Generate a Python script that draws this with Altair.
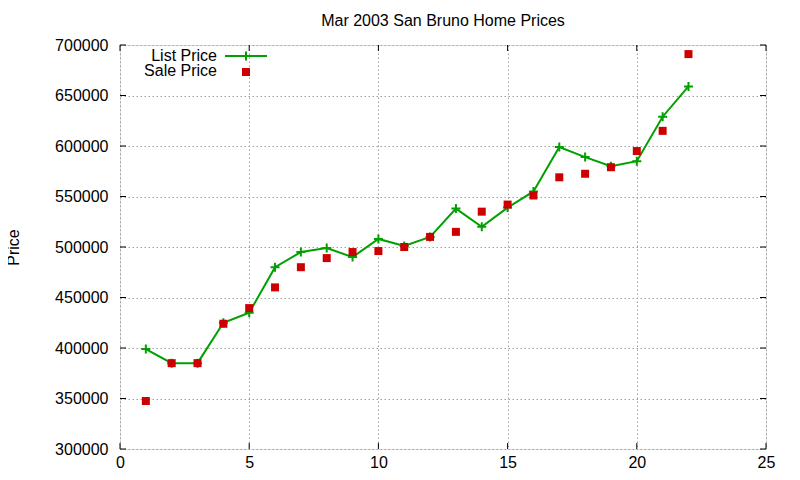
import altair as alt
import pandas as pd

house = list(range(1, 23))
list_price = [399000, 385000, 385000, 425000, 435000, 480000, 495000, 499000, 490000, 508000, 501000,
              510000, 538000, 520000, 539000, 555000, 599000, 589000, 580000, 585000, 629000, 659000]
sale_price = [347500, 385000, 385000, 424000, 439500, 460000, 480000, 489000, 495000, 496000, 500000,
              510000, 515000, 535000, 542000, 551000, 569000, 572500, 579000, 595000, 615000, 691000]
x_ticks = [0, 5, 10, 15, 20, 25]
y_ticks = [300000, 350000, 400000, 450000, 500000, 550000, 600000, 650000, 700000]
legend_labels = ["List Price", "Sale Price"]
title_text = "Mar 2003 San Bruno Home Prices"

GREEN = "#00a000"
RED = "#cc0000"
FONT = "Liberation Sans"
W, H = 646, 404
PLUS = "M-1,0L1,0M0,-1L0,1"

df = pd.DataFrame({"x": house, "list": list_price, "sale": sale_price})

xs = alt.Scale(domain=[0, 25], nice=False, zero=False)
ys = alt.Scale(domain=[300000, 700000], nice=False, zero=False)

xax = alt.Axis(values=x_ticks, format="d", tickSize=0, labelPadding=5, grid=True,
               gridDash=[1.5, 2.5], gridColor="#a0a0a0", domain=False, title=None,
               labelFontSize=16, labelFont=FONT, labelColor="black", labelFlush=False)
yax = alt.Axis(values=y_ticks, format="d", tickSize=0, labelPadding=12, grid=True,
               gridDash=[1.5, 2.5], gridColor="#a0a0a0", domain=False, title="Price",
               titleFontSize=16, titleFont=FONT, titleFontWeight="normal", titleColor="black",
               titlePadding=33, labelFontSize=16, labelFont=FONT, labelColor="black")

base = alt.Chart(df)

line = base.mark_line(color=GREEN, strokeWidth=2).encode(
    x=alt.X("x:Q", scale=xs, axis=xax),
    y=alt.Y("list:Q", scale=ys, axis=yax),
)
plus = base.mark_point(shape=PLUS, size=81, color=GREEN, strokeWidth=2, filled=False, opacity=1).encode(
    x=alt.X("x:Q", scale=xs), y=alt.Y("list:Q", scale=ys)
)
sq = base.mark_point(shape="square", size=64, color=RED, filled=True, opacity=1, strokeWidth=0).encode(
    x=alt.X("x:Q", scale=xs), y=alt.Y("sale:Q", scale=ys)
)

# inward ticks (gnuplot style, mirrored)
xt = pd.DataFrame({"t": x_ticks})
yt = pd.DataFrame({"t": y_ticks})
xtick_b = alt.Chart(xt).mark_rule(color="black", strokeWidth=1).encode(
    x=alt.X("t:Q", scale=xs), y=alt.value(H), y2=alt.value(H - 6))
xtick_t = alt.Chart(xt).mark_rule(color="black", strokeWidth=1).encode(
    x=alt.X("t:Q", scale=xs), y=alt.value(0), y2=alt.value(6))
ytick_l = alt.Chart(yt).mark_rule(color="black", strokeWidth=1).encode(
    y=alt.Y("t:Q", scale=ys), x=alt.value(0), x2=alt.value(6))
ytick_r = alt.Chart(yt).mark_rule(color="black", strokeWidth=1).encode(
    y=alt.Y("t:Q", scale=ys), x=alt.value(W), x2=alt.value(W - 6))

# legend
leg_text1 = alt.Chart(pd.DataFrame({"label": [legend_labels[0]]})).mark_text(
    align="right", baseline="middle", fontSize=16, font=FONT, color="black").encode(
    text="label:N", x=alt.value(97), y=alt.value(11))
leg_text2 = alt.Chart(pd.DataFrame({"label": [legend_labels[1]]})).mark_text(
    align="right", baseline="middle", fontSize=16, font=FONT, color="black").encode(
    text="label:N", x=alt.value(97), y=alt.value(26))
leg_line = alt.Chart(pd.DataFrame({"label": [legend_labels[0]]})).mark_rule(color=GREEN, strokeWidth=2).encode(
    x=alt.value(105), x2=alt.value(147), y=alt.value(11))
leg_plus = alt.Chart(pd.DataFrame({"label": [legend_labels[0]]})).mark_point(
    shape=PLUS, size=81, color=GREEN, strokeWidth=2, filled=False, opacity=1).encode(
    x=alt.value(126), y=alt.value(11))
leg_sq = alt.Chart(pd.DataFrame({"label": [legend_labels[1]]})).mark_point(
    shape="square", size=64, color=RED, filled=True, opacity=1, strokeWidth=0).encode(
    x=alt.value(126), y=alt.value(27))

chart = alt.layer(
    line, plus, sq, xtick_b, xtick_t, ytick_l, ytick_r,
    leg_text1, leg_text2, leg_line, leg_plus, leg_sq
).properties(
    width=W, height=H,
    title=alt.TitleParams(title_text, fontSize=16, font=FONT, fontWeight="normal", color="black",
                          anchor="middle", offset=8),
    autosize=alt.AutoSizeParams(type="none"),
    padding={"left": 112, "top": 37, "right": 20, "bottom": 20},
).configure_view(stroke="black", strokeWidth=1).configure(background="white")

chart.save("out.html", embed_options={"renderer": "svg", "actions": False})
